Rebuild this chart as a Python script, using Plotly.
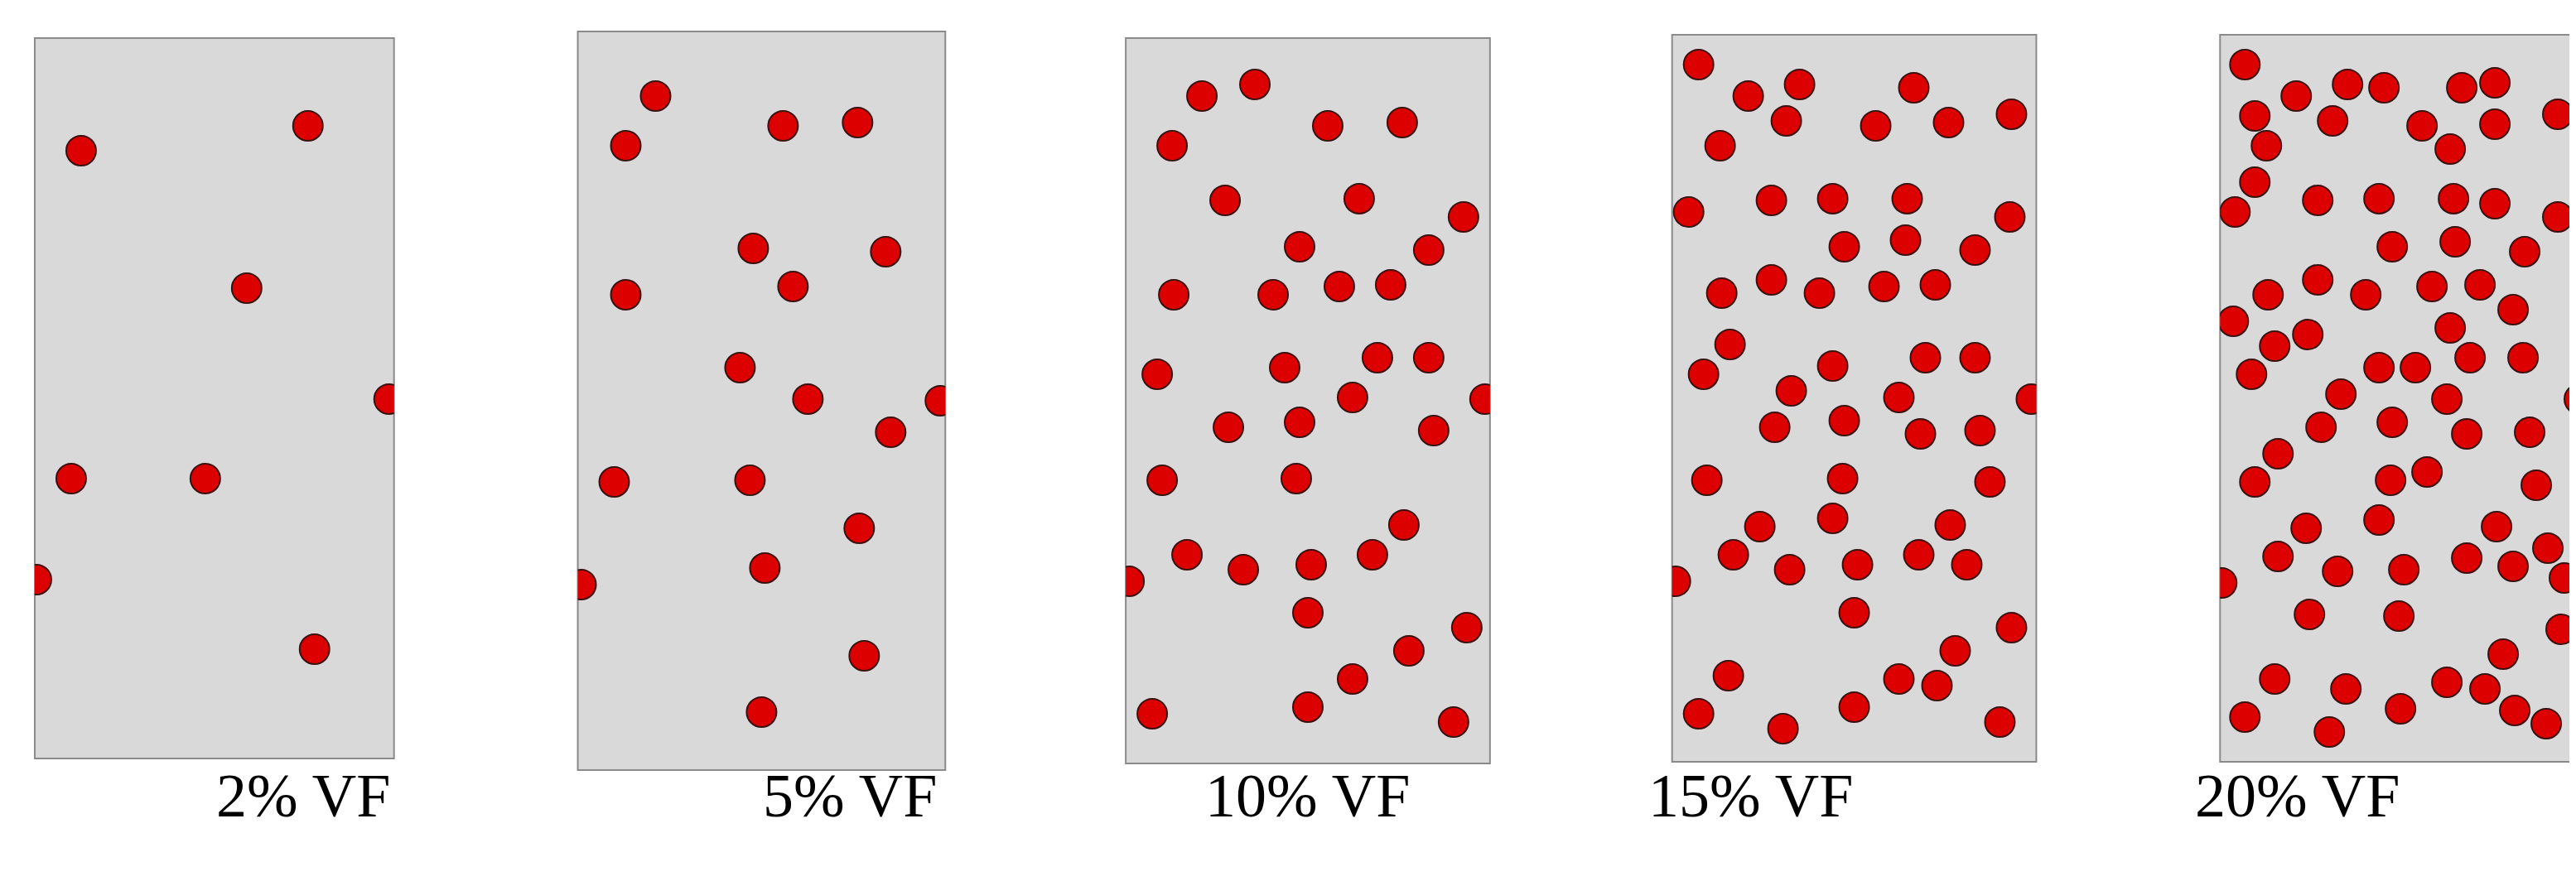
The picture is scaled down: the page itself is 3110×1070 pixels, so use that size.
import plotly.graph_objects as go

labels = ["2% VF", "5% VF", "10% VF", "15% VF", "20% VF"]

panels = [(17, 234, 19, 454), (345, 567, 15, 461), (676, 896, 19, 457),
          (1006, 1226, 17, 456), (1337, 1556, 17, 456)]

p1 = [(45,87),(182,72),(145,170),(231,237),(39,285),(120,285),(18,346),(186,388)]
p2 = [(392,54),(374,84),(469,72),(514,70),(451,146),(531,148),(475,169),(374,174),
      (443,218),(484,237),(564,238),(534,257),(367,287),(449,286),(515,315),(458,339),
      (347,349),(518,392),(456,426)]
p3 = [(722,54),(754,47),(704,84),(798,72),(843,70),(736,117),(817,116),(880,127),
      (781,145),(859,147),(705,174),(765,174),(805,169),(836,168),(772,218),(828,212),
      (859,212),(695,222),(893,237),(813,236),(738,254),(781,251),(862,256),(698,286),
      (779,285),(844,313),(713,331),(747,340),(788,337),(825,331),(678,347),(786,366),
      (882,375),(847,389),(813,406),(692,427),(786,423),(874,432)]
p4 = [(1022,35),(1052,54),(1083,47),(1152,49),(1075,69),(1129,72),(1173,70),(1211,65),
      (1035,84),(1016,124),(1066,117),(1103,116),(1148,116),(1210,127),(1110,145),
      (1147,141),(1189,147),(1036,173),(1066,165),(1095,173),(1134,169),(1165,168),
      (1041,204),(1025,222),(1103,217),(1159,212),(1189,212),(1078,232),(1143,236),
      (1223,237),(1068,254),(1110,250),(1156,258),(1192,256),(1027,286),(1109,285),
      (1198,287),(1059,314),(1103,309),(1174,313),(1043,331),(1077,340),(1118,337),
      (1155,331),(1184,337),(1008,347),(1116,366),(1211,375),(1177,389),(1040,404),
      (1143,406),(1166,410),(1022,427),(1073,436),(1116,423),(1204,432)]
p5 = [(1352,35),(1383,54),(1414,47),(1436,49),(1483,49),(1503,46),(1358,66),(1405,69),
      (1459,72),(1503,71),(1541,65),(1365,84),(1476,86),(1358,106),(1346,124),(1396,117),
      (1433,116),(1478,116),(1503,119),(1541,127),(1441,145),(1479,142),(1521,148),
      (1366,174),(1396,165),(1425,174),(1465,169),(1494,168),(1514,183),(1345,190),
      (1370,205),(1390,198),(1476,194),(1356,222),(1433,218),(1455,218),(1488,212),
      (1520,212),(1410,234),(1474,237),(1554,237),(1398,254),(1441,251),(1486,258),
      (1524,257),(1372,270),(1358,287),(1440,286),(1462,281),(1528,289),(1389,315),
      (1433,310),(1504,314),(1372,332),(1408,341),(1448,340),(1486,333),(1514,338),
      (1535,327),(1545,345),(1338,348),(1391,367),(1445,368),(1543,376),(1508,391),
      (1370,406),(1413,412),(1474,408),(1497,412),(1352,429),(1403,438),(1446,424),
      (1515,425),(1534,433)]
particles = [p1, p2, p3, p4, p5]

W, H = 1556.0, 535.0
fig = go.Figure()
layout = dict(width=3110, height=1070, margin=dict(l=0, r=0, t=0, b=0),
              paper_bgcolor="white", plot_bgcolor="white", showlegend=False)
for i, (pts, (x0, x1, y0, y1), lab) in enumerate(zip(particles, panels, labels)):
    n = "" if i == 0 else str(i + 1)
    fig.add_trace(go.Scatter(x=[p[0] for p in pts], y=[p[1] for p in pts], mode="markers",
                             xaxis="x" + n, yaxis="y" + n, cliponaxis=True,
                             marker=dict(size=36, color="#dc0000",
                                         line=dict(color="#3a1010", width=2))))
    layout["xaxis" + n] = dict(domain=[x0 / W, min(1, x1 / W)], range=[x0, x1], visible=False,
                               anchor="y" + n, fixedrange=True)
    layout["yaxis" + n] = dict(domain=[1 - y1 / H, 1 - y0 / H], range=[y1, y0], visible=False,
                               anchor="x" + n, fixedrange=True)
    fig.add_shape(type="rect", xref="x" + n + " domain", yref="y" + n + " domain",
                  x0=0, x1=1, y0=0, y1=1, fillcolor="#d9d9d9", layer="below",
                  line=dict(color="#8a8a8a", width=2))
    fig.add_annotation(text=lab, x=(x0 + x1) / 2 / W, y=1 - 498 / H, xref="paper", yref="paper",
                       showarrow=False, font=dict(family="Liberation Serif", size=74, color="black"))
fig.update_layout(**layout)
fig.write_html("out.html")
